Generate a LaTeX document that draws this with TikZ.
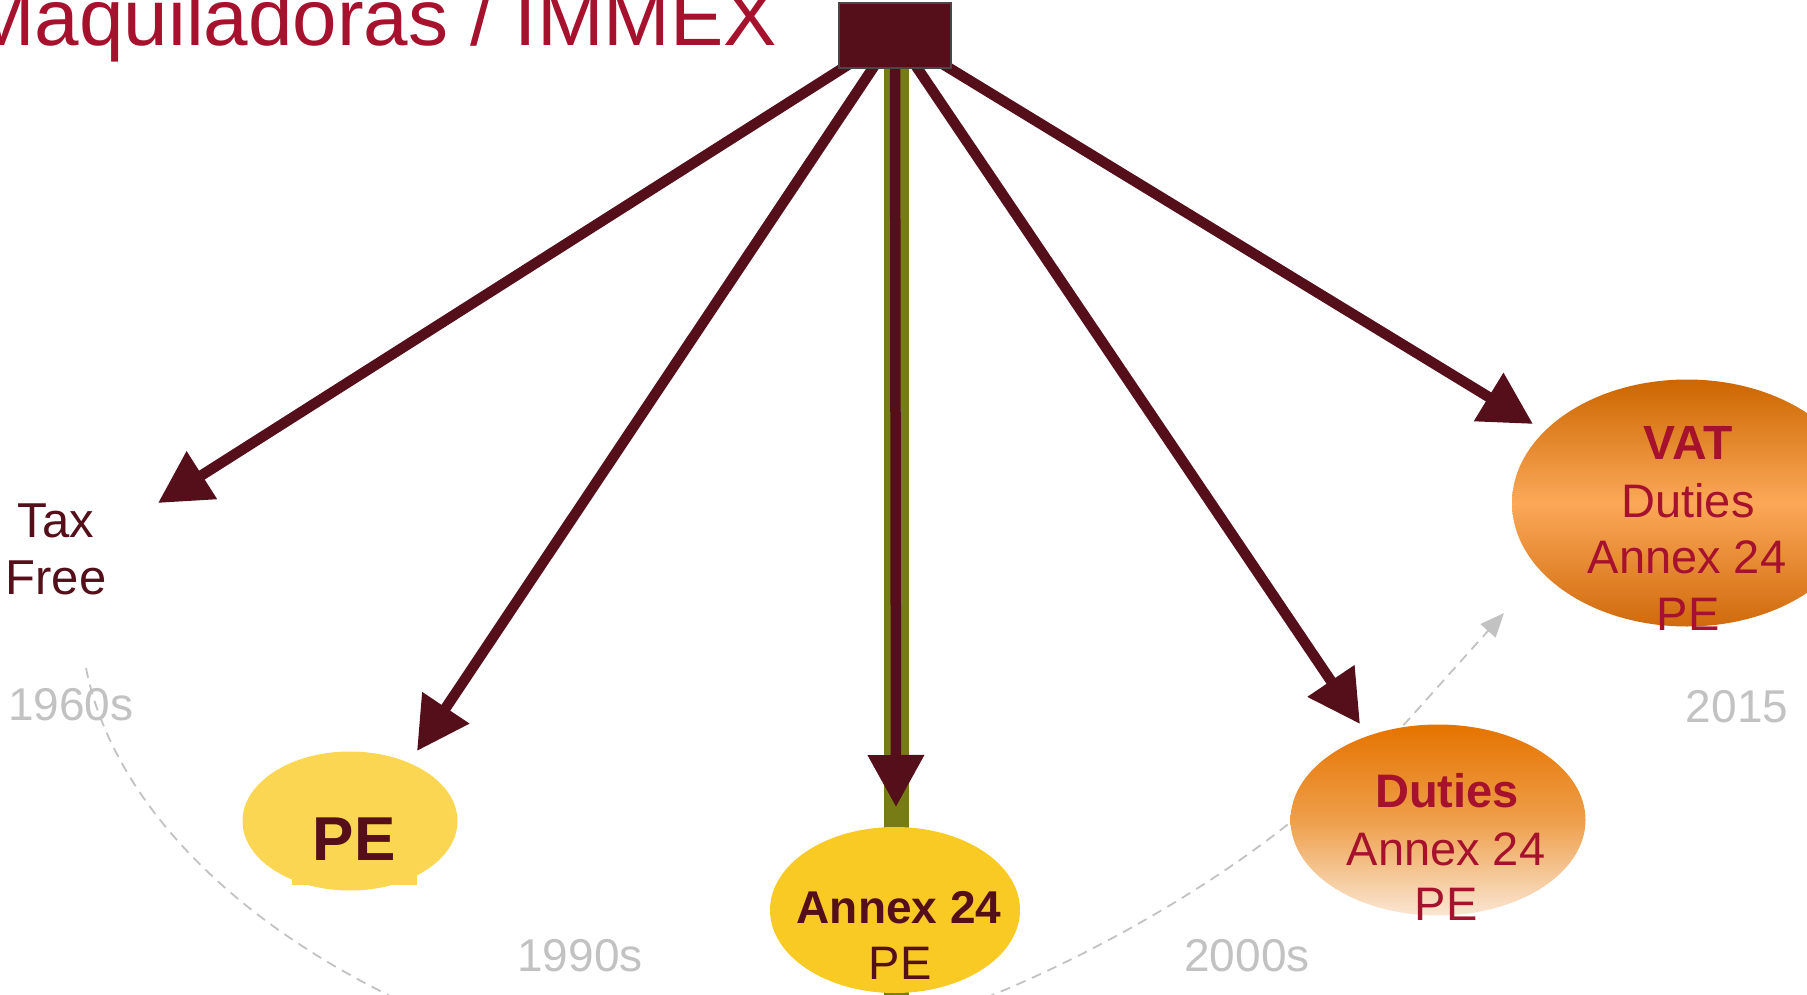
\documentclass[tikz,border=0pt]{standalone}
\usepackage{fontspec}
\setmainfont{Liberation Sans}
\usetikzlibrary{arrows.meta,shapes.geometric}
\definecolor{mrn}{HTML}{540F1A}
\definecolor{crim}{HTML}{A6122D}
\definecolor{olv}{HTML}{787C14}
\definecolor{grl}{HTML}{C2C2C2}
\definecolor{yelA}{HTML}{F9CA24}
\definecolor{yelB}{HTML}{FBD652}
\definecolor{duTop}{HTML}{E57300}
\definecolor{duMid}{HTML}{EE9F4A}
\definecolor{duBot}{HTML}{FAE6D2}
\definecolor{vaTop}{HTML}{CC6600}
\definecolor{vaMid}{HTML}{FBA858}
\definecolor{vaBot}{HTML}{D06A0C}
\begin{document}
\begin{tikzpicture}[x=1pt,y=-1pt,
  arr/.style={draw=mrn, line width=10.5pt, -{Triangle[length=52pt,width=54pt]}},
  gline/.style={draw=grl, line width=1.8pt, dash pattern=on 10pt off 7pt},
  oval/.style={ellipse, inner sep=0pt, draw=none},
  txt/.style={inner sep=0pt, anchor=base, font=\fontsize{47}{57}\selectfont},
  yr/.style={inner sep=0pt, anchor=base, text=grl, font=\fontsize{46}{55}\selectfont}
]
\useasboundingbox (0,0) rectangle (1807,995);
\clip (0,0) rectangle (1807,995);

% coordinates
\coordinate (hub) at (895,35);
\coordinate (tTax) at (158,503);
\coordinate (tPE) at (417,751);
\coordinate (tAnx) at (896,807);
\coordinate (tDut) at (1360,724);
\coordinate (tVat) at (1533,424);
\coordinate (oTop) at (896,68);
\coordinate (oBot) at (896,1005);
\coordinate (g1a) at (86,668);
\coordinate (g1b) at (420,1010);
\coordinate (g2a) at (985,998);
\coordinate (g2b) at (1292,821);
\coordinate (g3a) at (1392,738);
\coordinate (g3b) at (1504,613);

% dashed timeline
\draw[gline] (g1a) .. controls (110,790) and (220,920) .. (g1b);
\draw[gline] (g2a) .. controls (1080,960) and (1200,895) .. (g2b);
\draw[gline, -{Triangle[length=24pt,width=20pt]}, grl] (g3a) -- (g3b);

% olive band
\draw[olv, line width=25pt] (oTop) -- (oBot);

% ellipses
\fill[yelB] (292,862) rectangle (417,885);
\node[oval, fill=yelB, minimum width=215pt, minimum height=139pt] (ePE) at (350,821) {};
\node[oval, fill=yelA, minimum width=250pt, minimum height=166pt] (eAnx) at (895,910) {};
\node[oval, top color=duTop, bottom color=duBot, middle color=duMid, minimum width=295pt, minimum height=191pt] (eDut) at (1438,820) {};
\node[oval, top color=vaTop, bottom color=vaBot, middle color=vaMid, minimum width=350pt, minimum height=247pt] (eVat) at (1687,503) {};

% arrows
\draw[arr] (hub) -- (tTax);
\draw[arr] (hub) -- (tPE);
\draw[arr] (hub) -- (tAnx);
\draw[arr] (hub) -- (tDut);
\draw[arr] (hub) -- (tVat);

% hub box
\node[draw=black!72, line width=1.5pt, fill=mrn, minimum width=112pt, minimum height=65pt, inner sep=0pt] (box) at (895,35.5) {};

% title
\node[anchor=base west, inner sep=0pt, text=crim, font=\fontsize{80}{96}\selectfont] (title) at (-32,46) {Maquiladoras / IMMEX};

% labels
\node[txt, text=mrn, font=\fontsize{49}{57}\selectfont] (tax1) at (56,537) {Tax};
\node[txt, text=mrn, font=\fontsize{49}{57}\selectfont] (tax2) at (56,594) {Free};

\node[txt, text=mrn, font=\bfseries\fontsize{62}{70}\selectfont] (pe1) at (354,860) {PE};

\node[txt, text=mrn, font=\bfseries\fontsize{46}{57}\selectfont] (an1) at (899,923) {Annex 24};
\node[txt, text=mrn] (an2) at (900,979) {PE};

\node[txt, text=crim, font=\bfseries\fontsize{47}{57}\selectfont] (du1) at (1447,807) {Duties};
\node[txt, text=crim] (du2) at (1446,865) {Annex 24};
\node[txt, text=crim] (du3) at (1446,920) {PE};

\node[txt, text=crim, font=\bfseries\fontsize{48}{57}\selectfont] (va1) at (1688,459) {VAT};
\node[txt, text=crim] (va2) at (1688,517) {Duties};
\node[txt, text=crim] (va3) at (1687,573) {Annex 24};
\node[txt, text=crim] (va4) at (1688,630) {PE};

% years
\node[yr, anchor=base west] (y1) at (8,720) {1960s};
\node[yr] (y2) at (580,971) {1990s};
\node[yr] (y3) at (1247,971) {2000s};
\node[yr] (y4) at (1737,722) {2015};
\end{tikzpicture}
\end{document}
